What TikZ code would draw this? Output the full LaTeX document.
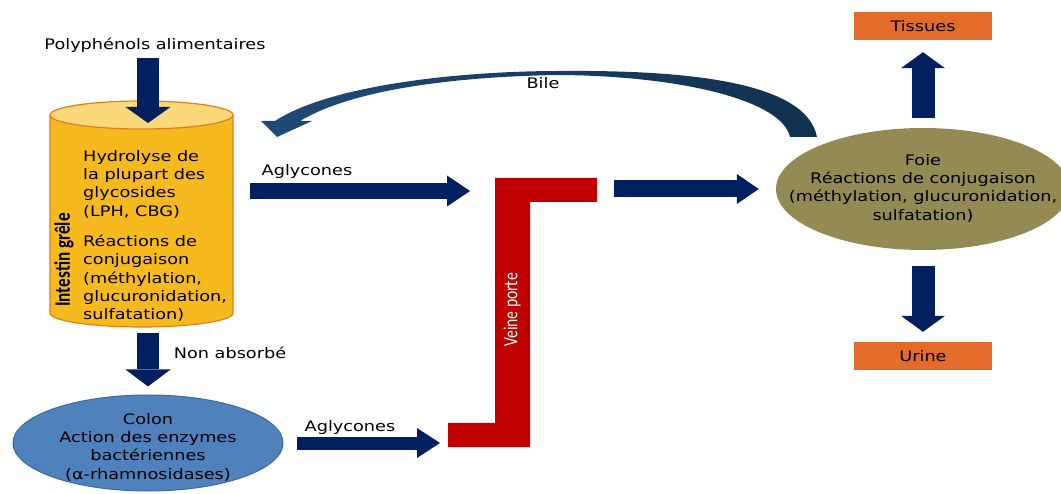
\documentclass[tikz,border=0pt]{standalone}
\usepackage{fontspec}
\setmainfont{DejaVu Sans}[FakeStretch=1.22]
\newfontfamily\condfont{Carlito}[FakeStretch=0.78]
\usetikzlibrary{arrows.meta,shapes.geometric}
\definecolor{navy}{HTML}{002060}
\definecolor{cylbody}{HTML}{F6BA1E}
\definecolor{cyltop}{HTML}{FBD878}
\definecolor{cylline}{HTML}{E57C1F}
\definecolor{portered}{HTML}{C00000}
\definecolor{foiecol}{HTML}{948A54}
\definecolor{colonfill}{HTML}{4F81BD}
\definecolor{colonline}{HTML}{3C6A9E}
\definecolor{boxorange}{HTML}{E36C2B}
\definecolor{bileA}{HTML}{1F4A78}
\definecolor{bileB}{HTML}{10304F}
\tikzset{
  txt/.style={font=\fontsize{14.5}{18.3}\selectfont, inner sep=0pt, text=black},
  orangebox/.style={txt, fill=boxorange, minimum width=138pt, minimum height=28pt},
  blockarr/.style n args={3}{draw=navy, line width=#1, -{Triangle[width=#2, length=#3, line width=0pt]}},
}
\begin{document}
\begin{tikzpicture}[x=1pt,y=-1pt]
\useasboundingbox (0,0) rectangle (1061,494);
\clip (0,0) rectangle (1061,494);
\path[draw=cylline, fill=cylbody, line width=1.2pt] (50,115) -- (50,313) arc[start angle=180, end angle=0, x radius=91.5, y radius=14] -- (233,115);
\draw[draw=cylline, fill=cyltop, line width=1.2pt] (141.5,115) ellipse[x radius=91.5, y radius=14];
\node[txt, anchor=north west, align=left] (cyltxt) at (83,150) {Hydrolyse de\\la plupart des\\glycosides\\(LPH, CBG)\\[12pt]Réactions de\\conjugaison\\(méthylation,\\glucuronidation,\\sulfatation)};
\node[rotate=90, inner sep=0pt, font=\condfont\fontsize{22}{24}\selectfont\bfseries] (intestin) at (64,260) {Intestin grêle};
\fill[portered] (495,178) -- (597,178) -- (597,202) -- (530,202) -- (530,447) -- (448,447) -- (448,423) -- (495,423) -- cycle;
\node[rotate=90, inner sep=0pt, text=white, font=\condfont\fontsize{20}{22}\selectfont] (porte) at (512,310) {Veine porte};
\shade[left color=bileA, right color=bileB] (261,121) -- (277,137) -- (312,121) -- (300,121) .. controls (360,85) and (480,76) .. (560,75) .. controls (680,76) and (782,100) .. (790,137) -- (817,137) .. controls (806,80) and (680,70) .. (560,71) .. controls (460,71) and (330,85) .. (275,121) -- cycle;
\node[ellipse, fill=foiecol, minimum width=294pt, minimum height=122pt, inner sep=0pt] (foie) at (923,189) {};
\node[txt, align=center] (foietxt) at (923,188) {Foie\\Réactions de conjugaison\\(méthylation, glucuronidation,\\sulfatation)};
\node[orangebox] (tissues) at (923,26) {Tissues};
\node[orangebox] (urine) at (923,356) {Urine};
\node[ellipse, fill=colonfill, draw=colonline, line width=1pt, minimum width=270pt, minimum height=96pt, inner sep=0pt] (colon) at (148,443) {};
\node[txt, align=center] (colontxt) at (148,447) {Colon\\Action des enzymes\\bactériennes\\(α-rhamnosidases)};
\node[txt] (poly) at (155,45) {Polyphénols alimentaires};
\node[txt] (agly1) at (307,172) {Aglycones};
\node[txt] (agly2) at (350,427) {Aglycones};
\node[txt] (nonabs) at (230,353) {Non absorbé};
\node[txt] (bile) at (543,83) {Bile};
\coordinate (polyout) at (148,58);
\coordinate (cyltop) at (148,123);
\coordinate (cylbot) at (148,333);
\coordinate (ilein) at (250,191);
\coordinate (portein) at (470,191);
\coordinate (porteout) at (614,189);
\coordinate (colonout) at (297,443);
\coordinate (portebas) at (440,443);
\draw[blockarr={22pt}{45pt}{16pt}] (polyout) -- (cyltop);
\draw[blockarr={22pt}{45pt}{17pt}] (cylbot) -- ([yshift=8pt]colon.north);
\draw[blockarr={16pt}{31pt}{23pt}] (ilein) -- (portein);
\draw[blockarr={17pt}{30pt}{22pt}] (porteout) -- ([xshift=-17pt]foie.west);
\draw[blockarr={23pt}{44pt}{16pt}] ([yshift=10pt]foie.north) -- ([yshift=-12pt]tissues.south);
\draw[blockarr={23pt}{44pt}{16pt}] ([yshift=-16pt]foie.south) -- ([yshift=10pt]urine.north);
\draw[blockarr={13pt}{30pt}{23pt}] (colonout) -- (portebas);
\end{tikzpicture}
\end{document}
